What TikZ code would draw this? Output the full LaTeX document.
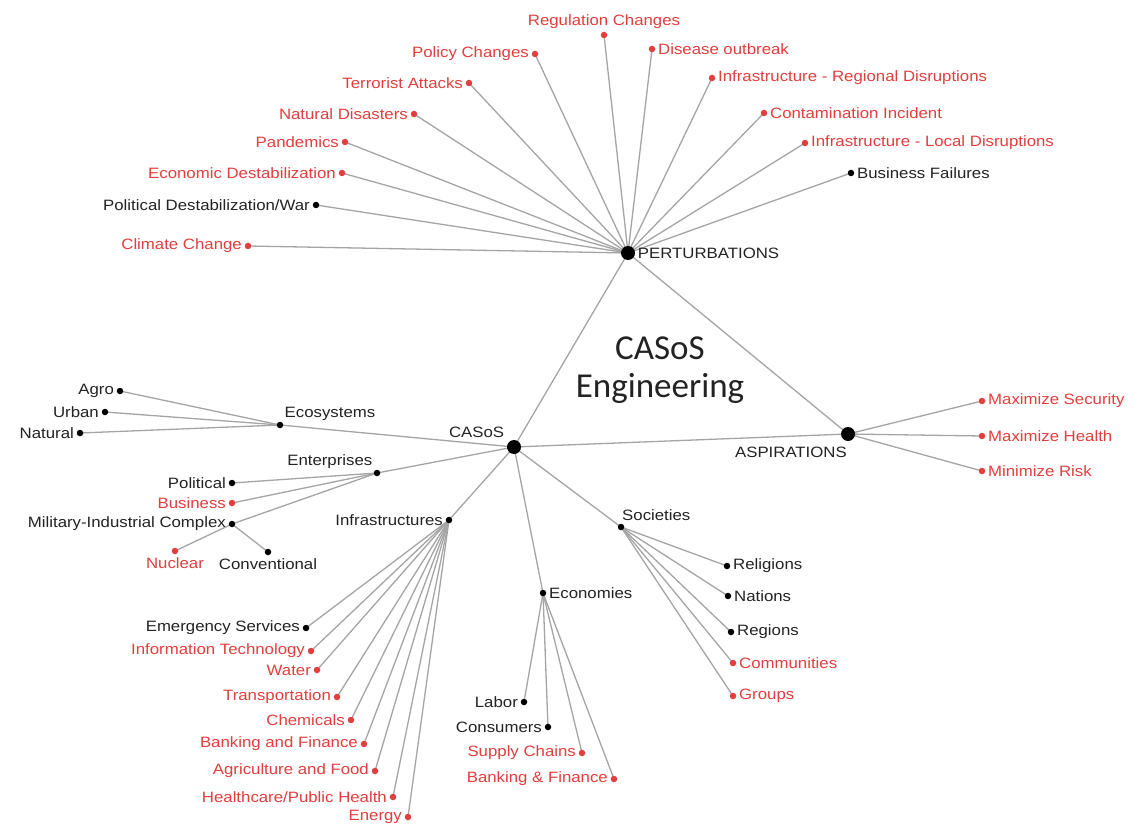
\documentclass[tikz,border=0pt]{standalone}
\usepackage{fontspec}
\newfontfamily\labfont[FakeStretch=1.12]{Liberation Sans}
\newfontfamily\titfont{Carlito}
\usetikzlibrary{backgrounds}
\definecolor{cred}{RGB}{226,62,62}
\definecolor{cgray}{RGB}{165,165,165}
\definecolor{ctxt}{RGB}{35,35,35}
\tikzset{
  dotr/.style={circle, fill=cred, inner sep=0pt, minimum size=6.5pt},
  dotb/.style={circle, fill=black, inner sep=0pt, minimum size=6.5pt},
  hub/.style={circle, fill=black, inner sep=0pt, minimum size=14pt},
  tr/.style={text=cred, font=\labfont\fontsize{15}{18}\selectfont, inner sep=1pt},
  tb/.style={text=ctxt, font=\labfont\fontsize{15}{18}\selectfont, inner sep=1pt},
  edge/.style={draw=cgray, line width=1.3pt},
  titlestyle/.style={text=ctxt, font=\titfont\fontsize{35}{38}\selectfont, align=center, inner sep=0pt}
}
\begin{document}
\begin{tikzpicture}[x=1pt,y=-1pt,label distance=1.5pt]
\useasboundingbox (0,0) rectangle (1142,826);

% hubs
\node[hub, label={[tb]right:PERTURBATIONS}] (pert) at (628,253) {};
\node[hub, label={[tb,anchor=south east,label distance=5pt]north west:CASoS}] (casos) at (514,447) {};
\node[hub, label={[tb,anchor=north east,label distance=5pt]south:ASPIRATIONS}] (asp) at (848,434) {};
\node[titlestyle] (title) at (660,370) {CASoS\\Engineering};

% perturbations
\node[dotr, label={[tr]above:Regulation Changes}] (p1) at (604,35) {};
\node[dotr, label={[tr]left:Policy Changes}] (p2) at (535,54) {};
\node[dotr, label={[tr]left:Terrorist Attacks}] (p3) at (469,83) {};
\node[dotr, label={[tr]left:Natural Disasters}] (p4) at (414,114) {};
\node[dotr, label={[tr]left:Pandemics}] (p5) at (345,142) {};
\node[dotr, label={[tr]left:Economic Destabilization}] (p6) at (342,173) {};
\node[dotb, label={[tb]left:Political Destabilization/War}] (p7) at (316,205) {};
\node[dotr, label={[tr]left:Climate Change}] (p8) at (248,246) {};
\node[dotr, label={[tr]right:Disease outbreak}] (p9) at (652,49) {};
\node[dotr, label={[tr]right:Infrastructure - Regional Disruptions}] (p10) at (712,78) {};
\node[dotr, label={[tr]right:Contamination Incident}] (p11) at (764,113) {};
\node[dotr, label={[tr]right:Infrastructure - Local Disruptions}] (p12) at (805,143) {};
\node[dotb, label={[tb]right:Business Failures}] (p13) at (851,173) {};

% aspirations
\node[dotr, label={[tr]right:Maximize Security}] (a1) at (982,401) {};
\node[dotr, label={[tr]right:Maximize Health}] (a2) at (982,436) {};
\node[dotr, label={[tr]right:Minimize Risk}] (a3) at (982,471) {};

% ecosystems
\node[dotb, label={[tb,anchor=south west]north east:Ecosystems}] (eco) at (280,425) {};
\node[dotb, label={[tb]left:Agro}] (e1) at (120,391) {};
\node[dotb, label={[tb]left:Urban}] (e2) at (105,412) {};
\node[dotb, label={[tb]left:Natural}] (e3) at (80,433) {};

% enterprises
\node[dotb, label={[tb,anchor=south east]north west:Enterprises}] (ent) at (377,473) {};
\node[dotb, label={[tb]left:Political}] (n1) at (232,483) {};
\node[dotr, label={[tr]left:Business}] (n2) at (232,503) {};
\node[dotb, label={[tb]left:Military-Industrial Complex}] (mic) at (232,524) {};
\node[dotr, label={[tr]below:Nuclear}] (m1) at (175,551) {};
\node[dotb, label={[tb]below:Conventional}] (m2) at (268,552) {};

% infrastructures
\node[dotb, label={[tb]left:Infrastructures}] (inf) at (449,520) {};
\node[dotb, label={[tb]left:Emergency Services}] (i1) at (306,628) {};
\node[dotr, label={[tr]left:Information Technology}] (i2) at (311,651) {};
\node[dotr, label={[tr]left:Water}] (i3) at (317,670) {};
\node[dotr, label={[tr]left:Transportation}] (i4) at (337,697) {};
\node[dotr, label={[tr]left:Chemicals}] (i5) at (351,720) {};
\node[dotr, label={[tr]left:Banking and Finance}] (i6) at (364,744) {};
\node[dotr, label={[tr]left:Agriculture and Food}] (i7) at (375,771) {};
\node[dotr, label={[tr]left:Healthcare/Public Health}] (i8) at (393,797) {};
\node[dotr, label={[tr]left:Energy}] (i9) at (408,817) {};

% economies
\node[dotb, label={[tb]right:Economies}] (ecn) at (543,593) {};
\node[dotb, label={[tb]left:Labor}] (c1) at (524,702) {};
\node[dotb, label={[tb]left:Consumers}] (c2) at (548,727) {};
\node[dotr, label={[tr]left:Supply Chains}] (c3) at (582,753) {};
\node[dotr, label={[tr]left:Banking \& Finance}] (c4) at (614,779) {};

% societies
\node[dotb, label={[tb,anchor=south west]north:Societies}] (soc) at (621,527) {};
\node[dotb, label={[tb]right:Religions}] (s1) at (727,566) {};
\node[dotb, label={[tb]right:Nations}] (s2) at (728,596) {};
\node[dotb, label={[tb]right:Regions}] (s3) at (731,632) {};
\node[dotr, label={[tr]right:Communities}] (s4) at (733,663) {};
\node[dotr, label={[tr]right:Groups}] (s5) at (733,696) {};

\begin{scope}[on background layer]
\fill[white] (0,0) rectangle (1142,826);
\foreach \k in {p1,p2,p3,p4,p5,p6,p7,p8,p9,p10,p11,p12,p13,casos,asp}
  \draw[edge] (pert.center) -- (\k.center);
\foreach \k in {a1,a2,a3,casos}
  \draw[edge] (asp.center) -- (\k.center);
\foreach \k in {e1,e2,e3,casos}
  \draw[edge] (eco.center) -- (\k.center);
\foreach \k in {n1,n2,mic,casos}
  \draw[edge] (ent.center) -- (\k.center);
\foreach \k in {m1,m2}
  \draw[edge] (mic.center) -- (\k.center);
\foreach \k in {i1,i2,i3,i4,i5,i6,i7,i8,i9,casos}
  \draw[edge] (inf.center) -- (\k.center);
\foreach \k in {c1,c2,c3,c4,casos}
  \draw[edge] (ecn.center) -- (\k.center);
\foreach \k in {s1,s2,s3,s4,s5,casos}
  \draw[edge] (soc.center) -- (\k.center);
\end{scope}
\end{tikzpicture}
\end{document}
